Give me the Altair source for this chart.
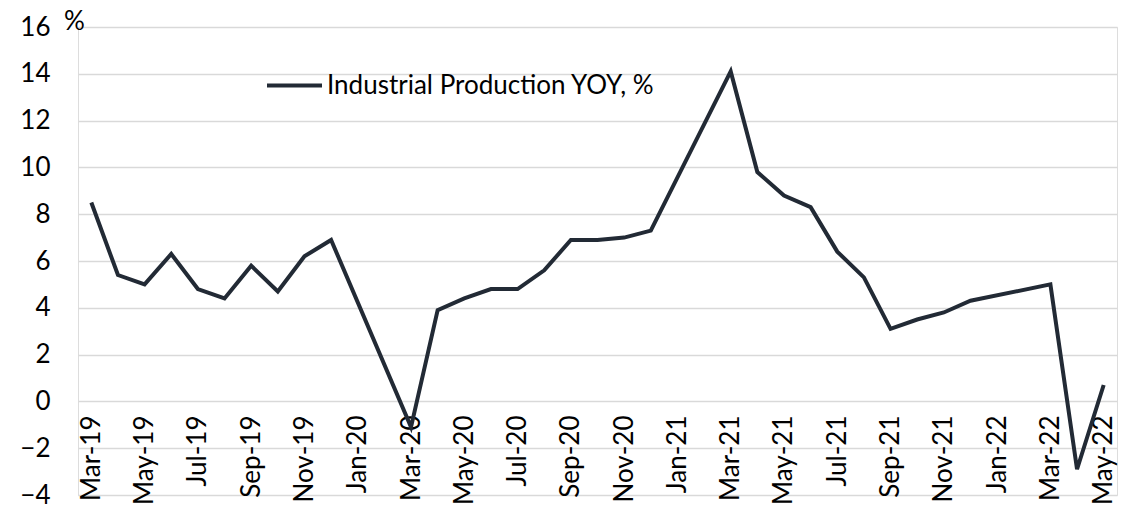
import altair as alt
import pandas as pd

months = ["Mar-19","Apr-19","May-19","Jun-19","Jul-19","Aug-19","Sep-19","Oct-19","Nov-19","Dec-19",
          "Jan-20","Feb-20","Mar-20","Apr-20","May-20","Jun-20","Jul-20","Aug-20","Sep-20","Oct-20","Nov-20","Dec-20",
          "Jan-21","Feb-21","Mar-21","Apr-21","May-21","Jun-21","Jul-21","Aug-21","Sep-21","Oct-21","Nov-21","Dec-21",
          "Jan-22","Feb-22","Mar-22","Apr-22","May-22"]
# None = combined Jan-Feb release (no monthly value); line bridges the gap
values = [8.5, 5.4, 5.0, 6.3, 4.8, 4.4, 5.8, 4.7, 6.2, 6.9,
          None, None, -1.1, 3.9, 4.4, 4.8, 4.8, 5.6, 6.9, 6.9, 7.0, 7.3,
          None, None, 14.1, 9.8, 8.8, 8.3, 6.4, 5.3, 3.1, 3.5, 3.8, 4.3,
          None, None, 5.0, -2.9, 0.7]
series_name = "Industrial Production YOY, %"
y_ticks = list(range(-4, 17, 2))

rows = [{"idx": i, "month": m, "value": v, "series": series_name}
        for i, (m, v) in enumerate(zip(months, values)) if v is not None]
df = pd.DataFrame(rows)

label_idx = list(range(0, len(months), 2))
label_expr = "[" + ",".join("'%s'" % m for m in months) + "][datum.value]"

FONT = "Lato"
FS = 26

chart = alt.Chart(df).mark_line(strokeWidth=4, strokeJoin="miter").encode(
    x=alt.X("idx:Q",
            scale=alt.Scale(domain=[-0.5, len(months) - 0.5], nice=False, zero=False),
            axis=alt.Axis(values=label_idx, labelExpr=label_expr, labelAngle=270,
                          grid=False, domain=False, ticks=False, title=None,
                          offset=-94, labelPadding=14, labelFontSize=FS, labelFont=FONT,
                          labelColor="#000000", labelOverlap=False)),
    y=alt.Y("value:Q",
            scale=alt.Scale(domain=[-4, 16], nice=False),
            axis=alt.Axis(values=y_ticks, grid=True, gridColor="#d9d9d9", gridWidth=1.3,
                          domain=False, ticks=False, labelPadding=28,
                          labelFontSize=FS, labelFont=FONT, labelColor="#000000",
                          title="%", titleAngle=0, titleFontSize=FS, titleFont=FONT,
                          titleFontWeight="normal", titleColor="#000000",
                          titleAlign="center", titleBaseline="alphabetic",
                          titleX=-4, titleY=2)),
    color=alt.Color("series:N", scale=alt.Scale(range=["#222a35"]),
                    legend=alt.Legend(title=None, orient="none", legendX=187, legendY=29,
                                      symbolType="stroke", symbolSize=3025, symbolStrokeWidth=4,
                                      labelFontSize=FS, labelFont=FONT, labelColor="#000000",
                                      labelOffset=3, labelLimit=0, padding=0)),
).properties(
    width=1039, height=468,
    autosize=alt.AutoSizeParams(type="none"),
    padding={"left": 70, "top": 19, "right": 2, "bottom": 10},
).configure_view(stroke=None).configure(background="white")

chart.save("out.html", embed_options={"renderer": "svg", "actions": False})
